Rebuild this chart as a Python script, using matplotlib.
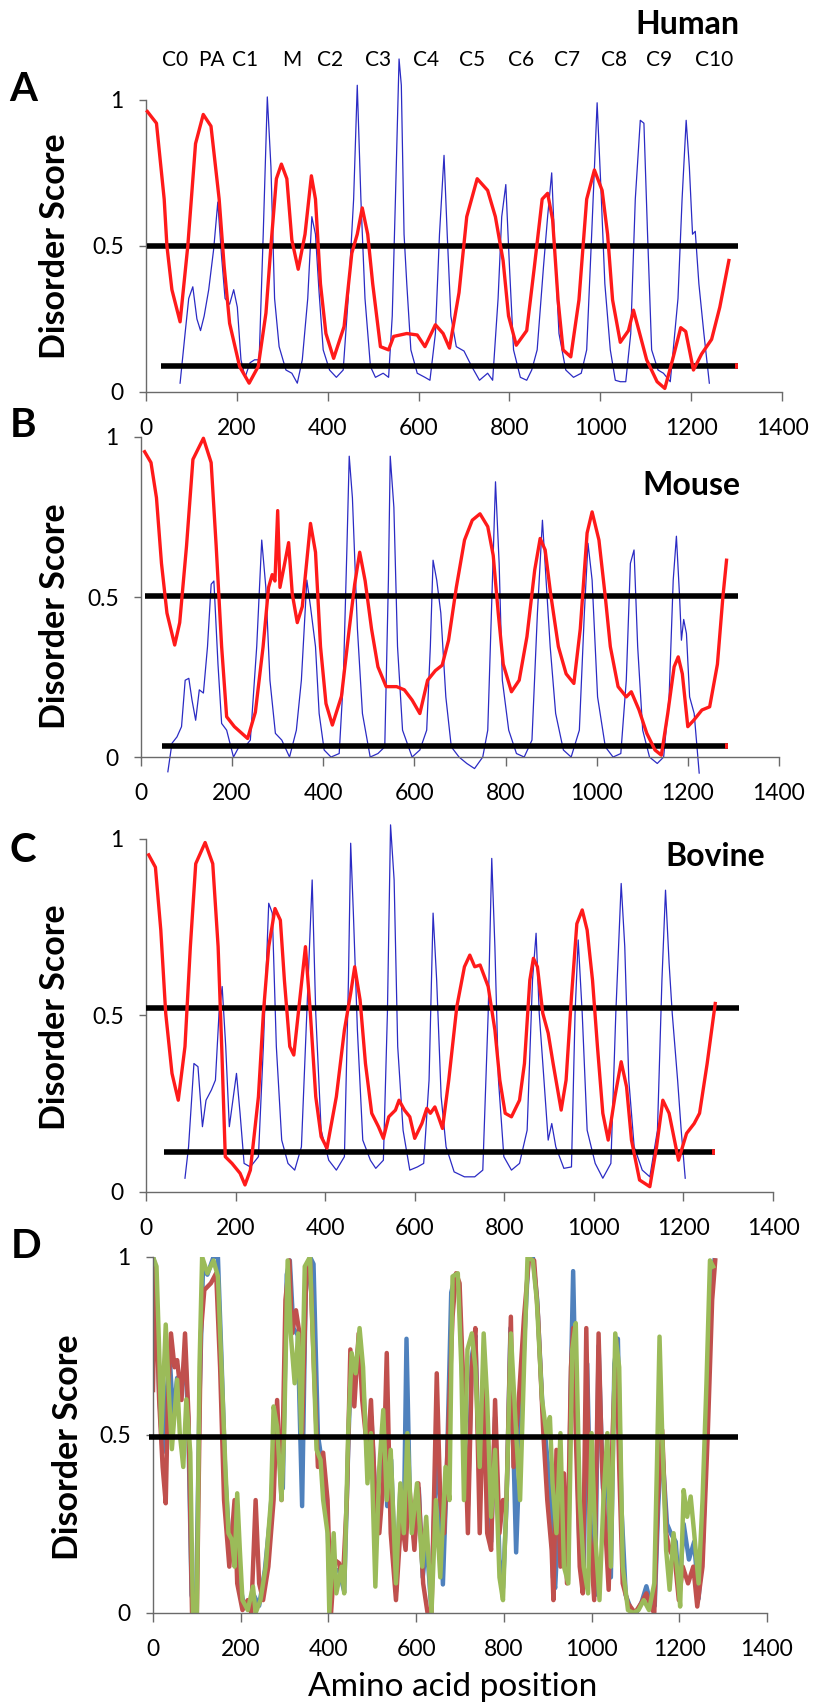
import numpy as np
import matplotlib
matplotlib.use("Agg")
import matplotlib.pyplot as plt

plt.rcParams['font.family'] = ['Lato', 'DejaVu Sans']

# ---------------------------------------------------------------
# Data: (amino acid position, score)
# ---------------------------------------------------------------
x_ticks = [0, 200, 400, 600, 800, 1000, 1200, 1400]
y_ticks = [0, 0.5, 1]
y_ticklabels = ['0', '0.5', '1']

domain_labels = ['C0', 'PA', 'C1', 'M', 'C2', 'C3', 'C4', 'C5', 'C6', 'C7', 'C8', 'C9', 'C10']
domain_pos = [63, 145, 218, 321, 405, 511, 616, 718, 826, 927, 1031, 1130, 1251]

# Human (panel A)
human_red = [(3, 0.96), (23, 0.92), (40, 0.66), (46, 0.50), (57, 0.35), (75, 0.24), (92, 0.50),
             (109, 0.85), (126, 0.95), (143, 0.91), (161, 0.66), (172, 0.43), (184, 0.235),
             (206, 0.087), (227, 0.03), (247, 0.087), (264, 0.27), (275, 0.50), (287, 0.73),
             (298, 0.78), (310, 0.73), (321, 0.52), (335, 0.42), (350, 0.54), (364, 0.74),
             (373, 0.66), (384, 0.37), (396, 0.20), (413, 0.115), (436, 0.224), (453, 0.475),
             (465, 0.54), (476, 0.63), (488, 0.54), (499, 0.37), (516, 0.155), (534, 0.144),
             (545, 0.19), (574, 0.20), (597, 0.195), (614, 0.155), (637, 0.23), (654, 0.20),
             (668, 0.15), (689, 0.34), (706, 0.60), (729, 0.73), (752, 0.69), (769, 0.60),
             (786, 0.45), (798, 0.26), (815, 0.16), (838, 0.21), (855, 0.43), (872, 0.66),
             (884, 0.68), (895, 0.59), (907, 0.315), (918, 0.144), (935, 0.12), (953, 0.315),
             (970, 0.66), (987, 0.76), (1004, 0.69), (1016, 0.54), (1027, 0.315), (1044, 0.17),
             (1062, 0.21), (1073, 0.28), (1085, 0.21), (1102, 0.11), (1125, 0.035), (1142, 0.012),
             (1159, 0.11), (1177, 0.22), (1188, 0.207), (1205, 0.075), (1223, 0.13), (1245, 0.18),
             (1263, 0.29), (1283, 0.45)]
human_blue = [(75, 0.03), (86, 0.20), (94, 0.32), (103, 0.36), (112, 0.25), (120, 0.21), (128, 0.26),
              (138, 0.35), (149, 0.49), (158, 0.65), (166, 0.47), (174, 0.32), (184, 0.30), (193, 0.35),
              (201, 0.29), (209, 0.11), (218, 0.05), (229, 0.10), (239, 0.11), (249, 0.11), (258, 0.54),
              (267, 1.01), (275, 0.77), (283, 0.32), (293, 0.155), (308, 0.075), (321, 0.064), (333, 0.03),
              (344, 0.11), (356, 0.32), (365, 0.60), (373, 0.54), (381, 0.34), (390, 0.144), (404, 0.075),
              (419, 0.05), (434, 0.075), (445, 0.32), (457, 0.66), (465, 1.05), (473, 0.66), (482, 0.32),
              (494, 0.087), (505, 0.05), (522, 0.064), (534, 0.05), (542, 0.26), (549, 0.66), (557, 1.14),
              (562, 1.05), (568, 0.54), (574, 0.37), (583, 0.144), (597, 0.064), (614, 0.05), (625, 0.04),
              (637, 0.20), (646, 0.54), (656, 0.81), (663, 0.54), (671, 0.26), (683, 0.155), (700, 0.14),
              (717, 0.087), (734, 0.04), (752, 0.064), (763, 0.04), (775, 0.32), (783, 0.60), (792, 0.71),
              (800, 0.43), (809, 0.144), (824, 0.05), (838, 0.04), (849, 0.075), (861, 0.144), (875, 0.43),
              (884, 0.60), (893, 0.75), (900, 0.49), (909, 0.20), (924, 0.075), (941, 0.05), (958, 0.064),
              (970, 0.144), (981, 0.54), (993, 0.99), (1001, 0.71), (1010, 0.37), (1022, 0.144),
              (1033, 0.04), (1044, 0.035), (1056, 0.035), (1067, 0.20), (1077, 0.66), (1088, 0.93),
              (1096, 0.92), (1104, 0.54), (1113, 0.144), (1127, 0.075), (1139, 0.064), (1154, 0.035),
              (1171, 0.32), (1180, 0.66), (1189, 0.93), (1196, 0.77), (1203, 0.54), (1209, 0.55),
              (1217, 0.37), (1228, 0.20), (1240, 0.03)]
human_cutoffs = [(0.50, 3, 1303), (0.09, 34, 1303)]

# Mouse (panel B)
mouse_red = [(8, 0.954), (22, 0.92), (34, 0.81), (45, 0.605), (57, 0.45), (74, 0.35), (85, 0.42),
             (100, 0.66), (114, 0.93), (137, 0.996), (154, 0.92), (165, 0.66), (177, 0.345), (188, 0.126),
             (205, 0.095), (234, 0.058), (251, 0.14), (268, 0.345), (280, 0.53), (288, 0.57), (294, 0.55),
             (300, 0.77), (305, 0.53), (314, 0.595), (324, 0.67), (332, 0.51), (343, 0.42), (354, 0.47),
             (372, 0.73), (383, 0.64), (394, 0.345), (406, 0.167), (420, 0.10), (440, 0.19), (457, 0.40),
             (469, 0.54), (480, 0.64), (492, 0.55), (506, 0.40), (520, 0.282), (538, 0.22), (561, 0.22),
             (578, 0.21), (595, 0.178), (612, 0.136), (629, 0.24), (646, 0.27), (661, 0.287), (675, 0.365),
             (692, 0.53), (710, 0.678), (727, 0.74), (744, 0.76), (761, 0.72), (773, 0.63), (784, 0.45),
             (795, 0.29), (813, 0.204), (830, 0.24), (847, 0.376), (864, 0.584), (876, 0.683), (887, 0.647),
             (899, 0.51), (916, 0.345), (933, 0.26), (950, 0.23), (964, 0.40), (979, 0.70), (990, 0.766),
             (1005, 0.678), (1019, 0.50), (1030, 0.345), (1047, 0.22), (1065, 0.188), (1076, 0.204),
             (1093, 0.147), (1110, 0.074), (1128, 0.022), (1142, 0.006), (1156, 0.136), (1170, 0.282),
             (1179, 0.313), (1188, 0.26), (1200, 0.095), (1213, 0.115), (1231, 0.147), (1248, 0.157),
             (1265, 0.29), (1277, 0.50), (1285, 0.615)]
mouse_blue = [(59, -0.046), (68, 0.043), (79, 0.063), (89, 0.095), (97, 0.24), (105, 0.246), (112, 0.178),
              (120, 0.115), (128, 0.21), (137, 0.20), (146, 0.345), (154, 0.54), (160, 0.55), (169, 0.29),
              (177, 0.105), (188, 0.084), (203, 0.0), (215, 0.032), (228, 0.032), (240, 0.053), (254, 0.345),
              (265, 0.678), (274, 0.53), (283, 0.24), (295, 0.074), (309, 0.053), (326, 0.0), (341, 0.084),
              (352, 0.24), (364, 0.553), (372, 0.47), (383, 0.345), (391, 0.136), (402, 0.022), (417, 0.0),
              (435, 0.011), (444, 0.24), (452, 0.657), (457, 0.94), (464, 0.81), (475, 0.40), (486, 0.136),
              (503, 0.0), (520, 0.011), (535, 0.032), (543, 0.553), (547, 0.94), (555, 0.78), (563, 0.345),
              (574, 0.084), (595, 0.0), (612, 0.022), (627, 0.084), (635, 0.345), (641, 0.615), (649, 0.553),
              (658, 0.45), (669, 0.188), (681, 0.032), (698, 0.0), (715, -0.02), (732, -0.036), (750, 0.0),
              (761, 0.084), (769, 0.45), (778, 0.86), (786, 0.605), (793, 0.24), (807, 0.084), (824, 0.011),
              (841, 0.0), (858, 0.053), (870, 0.45), (881, 0.74), (889, 0.553), (898, 0.345), (910, 0.136),
              (927, 0.022), (944, 0.0), (962, 0.084), (973, 0.45), (981, 0.668), (990, 0.553), (1002, 0.188),
              (1019, 0.032), (1036, 0.0), (1053, 0.011), (1065, 0.24), (1074, 0.605), (1082, 0.647),
              (1090, 0.345), (1101, 0.084), (1116, 0.0), (1133, -0.02), (1147, 0.0), (1159, 0.188),
              (1168, 0.553), (1175, 0.69), (1182, 0.50), (1186, 0.365), (1191, 0.43), (1197, 0.386),
              (1204, 0.188), (1214, 0.136), (1225, -0.05)]
mouse_cutoffs = [(0.503, 8, 1311), (0.035, 47, 1288)]

# Bovine (panel C)
bovine_red = [(6, 0.955), (21, 0.92), (33, 0.742), (44, 0.506), (58, 0.336), (72, 0.26), (87, 0.412),
              (99, 0.695), (111, 0.93), (132, 0.99), (149, 0.93), (161, 0.695), (169, 0.412), (177, 0.10),
              (192, 0.081), (210, 0.053), (221, 0.02), (233, 0.062), (251, 0.27), (262, 0.506), (274, 0.695),
              (288, 0.803), (300, 0.77), (309, 0.60), (321, 0.412), (330, 0.388), (340, 0.506), (356, 0.695),
              (367, 0.506), (379, 0.27), (391, 0.157), (404, 0.124), (425, 0.27), (443, 0.459), (457, 0.563),
              (466, 0.638), (478, 0.544), (490, 0.364), (504, 0.223), (519, 0.185), (530, 0.152), (542, 0.213),
              (557, 0.232), (565, 0.26), (577, 0.232), (589, 0.213), (600, 0.152), (616, 0.194), (627, 0.237),
              (635, 0.223), (645, 0.241), (653, 0.213), (662, 0.18), (676, 0.317), (694, 0.525), (711, 0.638),
              (723, 0.671), (734, 0.638), (746, 0.643), (764, 0.582), (779, 0.459), (790, 0.317), (802, 0.223),
              (816, 0.213), (834, 0.26), (845, 0.364), (857, 0.60), (865, 0.662), (874, 0.638), (886, 0.506),
              (898, 0.45), (909, 0.364), (927, 0.232), (938, 0.317), (950, 0.553), (962, 0.76), (974, 0.799),
              (985, 0.742), (997, 0.60), (1008, 0.412), (1020, 0.223), (1032, 0.147), (1047, 0.27),
              (1061, 0.369), (1073, 0.298), (1084, 0.147), (1102, 0.034), (1125, 0.015), (1140, 0.128),
              (1154, 0.26), (1168, 0.223), (1189, 0.09), (1207, 0.166), (1224, 0.194), (1236, 0.223),
              (1253, 0.364), (1271, 0.534)]
bovine_blue = [(87, 0.039), (95, 0.128), (107, 0.364), (116, 0.355), (126, 0.185), (134, 0.26), (146, 0.289),
               (155, 0.317), (163, 0.506), (170, 0.582), (178, 0.412), (186, 0.185), (195, 0.27), (202, 0.336),
               (210, 0.223), (219, 0.081), (233, 0.071), (251, 0.10), (262, 0.412), (274, 0.818), (282, 0.79),
               (291, 0.412), (303, 0.147), (317, 0.081), (332, 0.062), (347, 0.128), (359, 0.506), (371, 0.884),
               (379, 0.506), (391, 0.175), (408, 0.09), (425, 0.062), (443, 0.10), (452, 0.60), (457, 0.988),
               (463, 0.79), (472, 0.459), (484, 0.147), (501, 0.09), (513, 0.067), (530, 0.09), (539, 0.506),
               (546, 1.04), (554, 0.884), (562, 0.412), (574, 0.175), (589, 0.062), (606, 0.071), (620, 0.081),
               (632, 0.317), (641, 0.79), (649, 0.60), (659, 0.27), (670, 0.128), (688, 0.057), (711, 0.043),
               (734, 0.043), (752, 0.062), (764, 0.506), (772, 0.945), (779, 0.695), (787, 0.317), (799, 0.10),
               (816, 0.062), (834, 0.081), (851, 0.175), (863, 0.60), (871, 0.733), (878, 0.506), (886, 0.364),
               (898, 0.147), (906, 0.194), (915, 0.128), (933, 0.067), (950, 0.071), (958, 0.506), (965, 0.714),
               (974, 0.506), (985, 0.175), (1003, 0.081), (1020, 0.039), (1038, 0.081), (1049, 0.506),
               (1061, 0.874), (1069, 0.695), (1078, 0.317), (1090, 0.128), (1108, 0.062), (1125, 0.043),
               (1142, 0.175), (1152, 0.60), (1160, 0.855), (1168, 0.648), (1175, 0.506), (1187, 0.317),
               (1195, 0.175), (1204, 0.039)]
bovine_cutoffs = [(0.52, 0, 1323), (0.113, 40, 1270)]

# Comparison (panel D): three predictions overlaid
cmp_blue = [(0, 1.0), (6, 0.97), (14, 0.62), (22, 0.45), (30, 0.6), (38, 0.72), (46, 0.55), (55, 0.66),
            (63, 0.6), (73, 0.73), (80, 0.55), (88, 0.05), (98, 0.0), (106, 0.6), (114, 0.97), (124, 0.95),
            (138, 1.0), (148, 1.0), (156, 0.72), (165, 0.38), (174, 0.2), (186, 0.25), (195, 0.1), (206, 0.03),
            (218, 0.01), (230, 0.05), (242, 0.02), (255, 0.12), (268, 0.28), (278, 0.5), (287, 0.45),
            (296, 0.35), (305, 0.95), (312, 0.99), (320, 0.8), (330, 0.78), (340, 0.3), (348, 0.9), (358, 1.0),
            (366, 0.98), (376, 0.5), (388, 0.4), (398, 0.25), (404, 0.02), (414, 0.12), (424, 0.12),
            (436, 0.06), (446, 0.5), (452, 0.72), (462, 0.68), (471, 0.78), (480, 0.62), (490, 0.4),
            (498, 0.55), (508, 0.3), (517, 0.38), (526, 0.55), (534, 0.3), (543, 0.43), (554, 0.06),
            (564, 0.35), (572, 0.25), (578, 0.77), (586, 0.3), (596, 0.2), (606, 0.35), (615, 0.1), (624, 0.2),
            (634, 0.02), (646, 0.45), (655, 0.3), (661, 0.08), (670, 0.4), (680, 0.9), (690, 0.95),
            (698, 0.92), (708, 0.55), (718, 0.3), (727, 0.72), (735, 0.78), (745, 0.35), (754, 0.7),
            (763, 0.45), (771, 0.2), (780, 0.55), (790, 0.15), (798, 0.07), (806, 0.3), (815, 0.8),
            (822, 0.45), (828, 0.17), (836, 0.45), (846, 0.75), (856, 1.0), (866, 1.0), (876, 0.88),
            (888, 0.58), (898, 0.45), (906, 0.35), (912, 0.1), (917, 0.07), (926, 0.3), (936, 0.35),
            (946, 0.09), (952, 0.6), (958, 0.96), (964, 0.6), (972, 0.2), (982, 0.1), (990, 0.7), (998, 0.25),
            (1008, 0.05), (1016, 0.75), (1026, 0.35), (1036, 0.4), (1044, 0.1), (1052, 0.7), (1060, 0.77),
            (1068, 0.3), (1078, 0.05), (1090, 0.01), (1102, 0.0), (1114, 0.03), (1125, 0.075), (1134, 0.03),
            (1144, 0.02), (1152, 0.3), (1160, 0.48), (1172, 0.25), (1182, 0.22), (1192, 0.2), (1200, 0.05),
            (1210, 0.25), (1222, 0.15), (1234, 0.2), (1244, 0.04), (1254, 0.2), (1264, 0.55), (1274, 0.95),
            (1280, 0.99)]
cmp_red = [(0, 0.626), (5, 0.973), (14, 0.598), (22, 0.41), (29, 0.308), (34, 0.598), (41, 0.785),
           (49, 0.69), (55, 0.71), (65, 0.598), (73, 0.785), (81, 0.55), (89, 0.0), (100, 0.0), (109, 0.785),
           (117, 0.907), (132, 0.926), (144, 0.954), (153, 0.69), (162, 0.317), (174, 0.13), (186, 0.317),
           (192, 0.083), (204, 0.008), (216, 0.036), (224, 0.0), (234, 0.317), (242, 0.083), (251, 0.036),
           (263, 0.13), (275, 0.317), (283, 0.598), (293, 0.317), (302, 0.879), (311, 0.99), (317, 0.785),
           (326, 0.85), (334, 0.785), (340, 0.505), (350, 0.973), (358, 0.99), (367, 0.69), (376, 0.41),
           (388, 0.45), (398, 0.317), (406, 0.0), (414, 0.149), (424, 0.14), (433, 0.093), (442, 0.317),
           (450, 0.74), (459, 0.58), (469, 0.785), (477, 0.598), (489, 0.45), (497, 0.598), (507, 0.317),
           (516, 0.224), (525, 0.364), (533, 0.73), (542, 0.224), (554, 0.036), (566, 0.27), (576, 0.177),
           (584, 0.364), (596, 0.177), (605, 0.364), (616, 0.083), (626, 0.0), (635, 0.0), (647, 0.673),
           (655, 0.317), (664, 0.224), (673, 0.505), (683, 0.832), (691, 0.954), (699, 0.926), (709, 0.598),
           (718, 0.224), (727, 0.69), (735, 0.80), (745, 0.224), (754, 0.645), (762, 0.224), (771, 0.177),
           (780, 0.598), (790, 0.224), (798, 0.317), (806, 0.317), (816, 0.832), (822, 0.41), (834, 0.598),
           (846, 0.832), (857, 0.99), (869, 0.99), (878, 0.832), (890, 0.505), (899, 0.317), (909, 0.177),
           (913, 0.036), (920, 0.458), (929, 0.13), (937, 0.392), (944, 0.083), (953, 0.69), (958, 0.80),
           (964, 0.505), (973, 0.13), (980, 0.055), (988, 0.80), (996, 0.224), (1006, 0.036), (1016, 0.785),
           (1024, 0.41), (1032, 0.224), (1039, 0.065), (1048, 0.505), (1056, 0.767), (1063, 0.41),
           (1071, 0.083), (1083, 0.027), (1099, 0.0), (1113, 0.027), (1125, 0.055), (1134, 0.018),
           (1143, 0.0), (1151, 0.317), (1161, 0.514), (1170, 0.224), (1178, 0.177), (1190, 0.149),
           (1199, 0.036), (1208, 0.13), (1220, 0.083), (1232, 0.13), (1241, 0.018), (1253, 0.13),
           (1265, 0.505), (1275, 0.879), (1282, 0.99)]
cmp_green = [(0, 1.0), (8, 0.973), (14, 0.74), (19, 0.505), (29, 0.81), (37, 0.60), (43, 0.46), (55, 0.655),
             (61, 0.505), (69, 0.41), (76, 0.60), (85, 0.45), (91, 0.0), (100, 0.0), (106, 0.69), (112, 1.0),
             (124, 0.954), (138, 0.99), (148, 0.945), (156, 0.69), (165, 0.41), (172, 0.224), (180, 0.205),
             (186, 0.13), (192, 0.336), (198, 0.177), (204, 0.036), (216, 0.008), (228, 0.074), (234, 0.0),
             (245, 0.036), (257, 0.13), (269, 0.317), (275, 0.58), (283, 0.523), (293, 0.317), (299, 0.505),
             (307, 0.99), (314, 0.785), (323, 0.645), (331, 0.785), (338, 0.505), (346, 0.973), (358, 1.0),
             (364, 0.785), (373, 0.458), (382, 0.43), (388, 0.317), (398, 0.224), (402, 0.0), (412, 0.224),
             (418, 0.055), (430, 0.13), (436, 0.055), (445, 0.505), (453, 0.73), (462, 0.673), (471, 0.80),
             (479, 0.69), (489, 0.364), (497, 0.505), (507, 0.074), (516, 0.41), (525, 0.57), (533, 0.317),
             (542, 0.458), (554, 0.083), (564, 0.364), (572, 0.224), (580, 0.505), (590, 0.224), (602, 0.364),
             (614, 0.13), (623, 0.27), (635, 0.0), (645, 0.317), (655, 0.10), (667, 0.41), (676, 0.317),
             (683, 0.945), (695, 0.954), (703, 0.69), (709, 0.317), (717, 0.74), (727, 0.785), (735, 0.69),
             (745, 0.41), (754, 0.785), (762, 0.60), (771, 0.27), (780, 0.458), (790, 0.10), (798, 0.036),
             (806, 0.317), (816, 0.785), (828, 0.505), (837, 0.317), (846, 0.69), (854, 1.0), (866, 0.99),
             (875, 0.879), (887, 0.60), (897, 0.505), (905, 0.55), (911, 0.364), (920, 0.224), (929, 0.505),
             (937, 0.13), (947, 0.083), (956, 0.74), (964, 0.814), (973, 0.317), (982, 0.13), (992, 0.055),
             (1000, 0.505), (1008, 0.224), (1018, 0.036), (1027, 0.317), (1036, 0.505), (1044, 0.13),
             (1054, 0.785), (1063, 0.69), (1071, 0.13), (1083, 0.008), (1095, 0.0), (1107, 0.008),
             (1119, 0.036), (1131, 0.008), (1143, 0.083), (1149, 0.41), (1155, 0.776), (1161, 0.505),
             (1170, 0.177), (1178, 0.065), (1187, 0.224), (1196, 0.111), (1202, 0.018), (1210, 0.345),
             (1218, 0.27), (1226, 0.327), (1234, 0.224), (1244, 0.083), (1253, 0.317), (1262, 0.645),
             (1270, 0.99), (1277, 0.973)]
cmp_cutoff = (0.493, -8, 1333)

# ---------------------------------------------------------------
# Figure
# ---------------------------------------------------------------
RED = '#ff1a1a'
BLUE = '#2b2bc4'
AXIS_GREY = '#6a6a6a'

fig = plt.figure(figsize=(8.13, 17.07), dpi=100)

ax_a = fig.add_axes([0.1796, 0.7704, 0.7823, 0.1711])
ax_b = fig.add_axes([0.1734, 0.5565, 0.7847, 0.1875])
ax_c = fig.add_axes([0.1796, 0.3017, 0.7712, 0.2068])
ax_d = fig.add_axes([0.1882, 0.0551, 0.7552, 0.2086])


def style_axes(ax):
    ax.set_xlim(0, 1400)
    ax.set_ylim(0, 1)
    ax.patch.set_alpha(0)
    for s in ['top', 'right']:
        ax.spines[s].set_visible(False)
    for s in ['left', 'bottom']:
        ax.spines[s].set_color(AXIS_GREY)
        ax.spines[s].set_linewidth(1.0)
    ax.set_xticks(x_ticks)
    ax.set_yticks(y_ticks)
    ax.set_yticklabels(y_ticklabels)
    ax.tick_params(axis='x', direction='out', length=6.5, width=1, pad=12,
                   labelsize=16.5, color=AXIS_GREY)
    ax.tick_params(axis='y', direction='out', length=5, width=1, pad=11,
                   labelsize=16.5, color=AXIS_GREY)


def draw_species(ax, red, blue, cutoffs):
    bx, by = np.array(blue).T
    ax.plot(bx, by, color=BLUE, lw=0.9, clip_on=False, zorder=2)
    for y, x0, x1 in cutoffs:
        ax.plot([x0, x1], [y, y], color='black', lw=4, solid_capstyle='butt',
                clip_on=False, zorder=3)
    # small red end mark on the lower cutoff line
    y, x0, x1 = cutoffs[-1]
    ax.plot([x1 - 7, x1], [y, y], color=RED, lw=4, solid_capstyle='butt',
            clip_on=False, zorder=3)
    rx, ry = np.array(red).T
    ax.plot(rx, ry, color=RED, lw=2.4, clip_on=False, zorder=4)
    style_axes(ax)


draw_species(ax_a, human_red, human_blue, human_cutoffs)
draw_species(ax_b, mouse_red, mouse_blue, mouse_cutoffs)
draw_species(ax_c, bovine_red, bovine_blue, bovine_cutoffs)

# panel D
for series, col in [(cmp_blue, '#4f81bd'), (cmp_red, '#c0504d'), (cmp_green, '#9bbb59')]:
    sx, sy = np.array(series).T
    ax_d.plot(sx, sy, color=col, lw=3.2, zorder=2)
y, x0, x1 = cmp_cutoff
ax_d.plot([x0, x1], [y, y], color='black', lw=4, solid_capstyle='butt', clip_on=False, zorder=3)
style_axes(ax_d)

# domain labels above panel A
for lab, pos in zip(domain_labels, domain_pos):
    ax_a.text(pos, 1.137, lab, ha='center', va='center', fontsize=15, clip_on=False)

# species names
ax_a.text(1191, 1.257, 'Human', ha='center', va='center', fontsize=23, fontweight='bold')
ax_b.text(1207, 0.85, 'Mouse', ha='center', va='center', fontsize=23, fontweight='bold')
ax_c.text(1271, 0.95, 'Bovine', ha='center', va='center', fontsize=23, fontweight='bold')

# panel letters
for letter, (fx, fy) in zip('ABCD', [(0.0283, 0.9473), (0.0283, 0.7510),
                                     (0.0283, 0.5020), (0.0320, 0.2695)]):
    fig.text(fx, fy, letter, ha='center', va='center', fontsize=29, fontweight='bold')

# y labels
for fx, fy in [(0.0677, 0.8559), (0.0677, 0.6391), (0.0677, 0.4042), (0.0836, 0.1523)]:
    fig.text(fx, fy, 'Disorder Score', rotation=90, ha='center', va='center',
             fontsize=24.5, fontweight='bold')

fig.text(0.557, 0.0117, 'Amino acid position', ha='center', va='center', fontsize=24)

fig.savefig('out.png', dpi=100)
